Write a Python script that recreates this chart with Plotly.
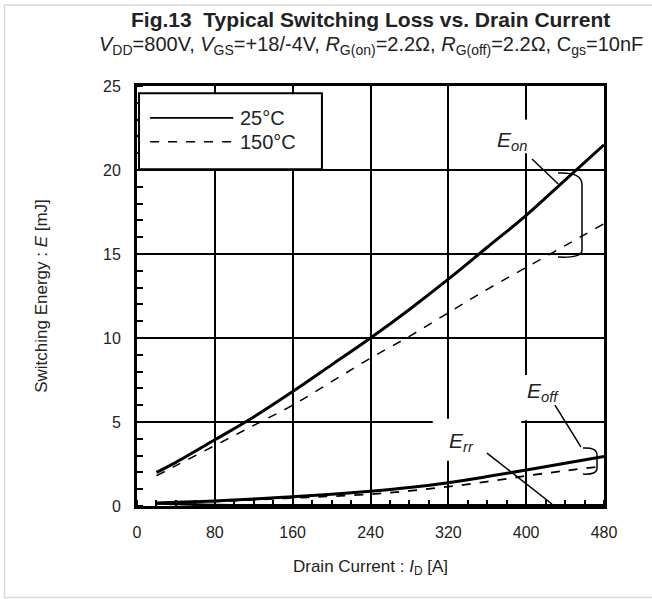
import plotly.graph_objects as go

# ---- data ----
current = [20, 40, 80, 120, 160, 200, 240, 280, 320, 360, 400, 440, 480]
eon_25 = [2.0, 2.6, 3.94, 5.3, 6.81, 8.4, 10.0, 11.7, 13.5, 15.4, 17.3, 19.4, 21.5]
eon_150 = [1.8, 2.4, 3.6, 4.8, 6.0, 7.4, 8.8, 10.1, 11.5, 12.9, 14.2, 15.5, 16.8]
eoff_25 = [0.18, 0.22, 0.3, 0.42, 0.55, 0.7, 0.88, 1.1, 1.39, 1.75, 2.14, 2.55, 2.95]
eoff_150 = [0.15, 0.19, 0.27, 0.37, 0.48, 0.58, 0.7, 0.9, 1.15, 1.45, 1.79, 2.1, 2.38]
err_25 = [0.17, 0.12, 0.06, 0.05, 0.05, 0.05, 0.05, 0.05, 0.05, 0.05, 0.05, 0.05, 0.05]
err_150 = [0.15, 0.11, 0.05, 0.04, 0.04, 0.04, 0.04, 0.04, 0.04, 0.04, 0.04, 0.04, 0.04]

x_ticks = [0, 80, 160, 240, 320, 400, 480]
y_ticks = [0, 5, 10, 15, 20, 25]

FONT = "Liberation Sans, Arial, sans-serif"

fig = go.Figure()

def add(y, solid, width):
    fig.add_trace(go.Scatter(
        x=current, y=y, mode="lines", showlegend=False,
        line=dict(color="black", width=width, dash=None if solid else "dash", shape="spline"),
    ))

add(err_25, True, 2.5)
add(err_150, False, 1.5)
add(eoff_150, False, 1.8)
add(eoff_25, True, 3)
add(eon_150, False, 1.5)
add(eon_25, True, 3)

axis_common = dict(
    showline=True, linecolor="black", linewidth=3, mirror=True,
    showgrid=True, gridcolor="black", gridwidth=2,
    zeroline=False, ticks="", ticklabelstandoff=10,
    tickfont=dict(family=FONT, size=16, color="#222"),
)

fig.update_xaxes(
    range=[0, 480], tickvals=x_ticks, ticktext=[str(v) for v in x_ticks],
    minor=dict(dtick=20, tick0=0, ticks="inside", ticklen=6, tickwidth=1.5,
               tickcolor="black", showgrid=False),
    title=dict(text="Drain Current : <i>I</i><sub>D</sub> [A]",
               font=dict(family=FONT, size=17, color="#222"), standoff=20),
    **axis_common,
)
fig.update_yaxes(
    range=[0, 25], tickvals=y_ticks, ticktext=[str(v) for v in y_ticks],
    minor=dict(dtick=1, tick0=0, ticks="inside", ticklen=6, tickwidth=1.5,
               tickcolor="black", showgrid=False),
    title=dict(text="Switching Energy : <i>E</i> [mJ]",
               font=dict(family=FONT, size=17, color="#222"), standoff=52),
    **axis_common,
)

shapes = []
annotations = []

# outer light border
shapes.append(dict(type="rect", xref="paper", yref="paper",
                   x0=-0.2837, x1=1.12, y0=-0.2176, y1=1.1929,
                   line=dict(color="#d9d9d9", width=1.5), layer="below"))

# white patches behind labels (cut the grid as in the reference)
for (a, b, c, d) in [(376, 402, 21.0, 23.0), (304, 395, 2.7, 5.2), (394, 440, 5.1, 7.8)]:
    shapes.append(dict(type="rect", x0=a, x1=b, y0=c, y1=d, line=dict(width=0),
                       fillcolor="white", layer="above"))

# legend box (manual)
shapes.append(dict(type="rect", xref="paper", yref="paper",
                   x0=0.0043, x1=0.396, y0=0.802, y1=0.983,
                   line=dict(color="black", width=2), fillcolor="white", layer="above"))
shapes.append(dict(type="line", xref="paper", yref="paper",
                   x0=0.028, x1=0.206, y0=0.924, y1=0.924,
                   line=dict(color="black", width=1.8), layer="above"))
shapes.append(dict(type="line", xref="paper", yref="paper",
                   x0=0.028, x1=0.206, y0=0.867, y1=0.867,
                   line=dict(color="black", width=1.5, dash="dash"), layer="above"))
annotations.append(dict(xref="paper", yref="paper", x=0.216, y=0.924, text="25°C",
                        showarrow=False, xanchor="left", yanchor="middle",
                        font=dict(family=FONT, size=20, color="#222")))
annotations.append(dict(xref="paper", yref="paper", x=0.216, y=0.867, text="150°C",
                        showarrow=False, xanchor="left", yanchor="middle",
                        font=dict(family=FONT, size=20, color="#222")))

# E_on label, leader and brace
annotations.append(dict(x=385, y=21.7, text="<i>E<sub>on</sub></i>", showarrow=False,
                        font=dict(family=FONT, size=21, color="#222")))
shapes.append(dict(type="line", x0=406, y0=20.65, x1=433, y1=19.17,
                   line=dict(color="black", width=1.5), layer="above"))
shapes.append(dict(type="path",
                   path="M 432.7,19.82 Q 457.4,19.9 457.4,19.1 L 457.4,15.24 Q 457.4,14.75 432.7,14.82",
                   line=dict(color="black", width=1.5), layer="above"))

# E_off label, leader and brace
annotations.append(dict(x=417, y=6.8, text="<i>E<sub>off</sub></i>", showarrow=False,
                        font=dict(family=FONT, size=21, color="#222")))
shapes.append(dict(type="line", x0=429.6, y0=6.01, x1=456.4, y1=3.51,
                   line=dict(color="black", width=1.5), layer="above"))
shapes.append(dict(type="path",
                   path="M 458.4,3.45 Q 472.8,3.5 472.8,3.04 L 472.8,2.26 Q 472.8,1.85 458.4,1.90",
                   line=dict(color="black", width=1.5), layer="above"))

# E_rr label and leader
annotations.append(dict(x=334, y=3.8, text="<i>E<sub>rr</sub></i>", showarrow=False,
                        font=dict(family=FONT, size=21, color="#222")))
shapes.append(dict(type="line", x0=359.7, y0=3.15, x1=426.5, y1=0.12,
                   line=dict(color="black", width=1.5), layer="above"))

# titles
annotations.append(dict(xref="paper", yref="paper", x=0.5, y=1.1595,
                        text="<b>Fig.13  Typical Switching Loss vs. Drain Current</b>",
                        showarrow=False, xanchor="center", yanchor="middle",
                        font=dict(family=FONT, size=21, color="#222")))
annotations.append(dict(xref="paper", yref="paper", x=0.5, y=1.0976,
                        text="<i>V</i><sub>DD</sub>=800V, <i>V</i><sub>GS</sub>=+18/-4V, "
                             "<i>R</i><sub>G(on)</sub>=2.2Ω, <i>R</i><sub>G(off)</sub>=2.2Ω, "
                             "C<sub>gs</sub>=10nF",
                        showarrow=False, xanchor="center", yanchor="middle",
                        font=dict(family=FONT, size=20, color="#222")))

fig.update_layout(
    width=652, height=599,
    margin=dict(l=137, r=48, t=86, b=93),
    paper_bgcolor="white", plot_bgcolor="white",
    shapes=shapes, annotations=annotations,
    showlegend=False,
    font=dict(family=FONT, color="#222"),
)

fig.write_html("out.html")
